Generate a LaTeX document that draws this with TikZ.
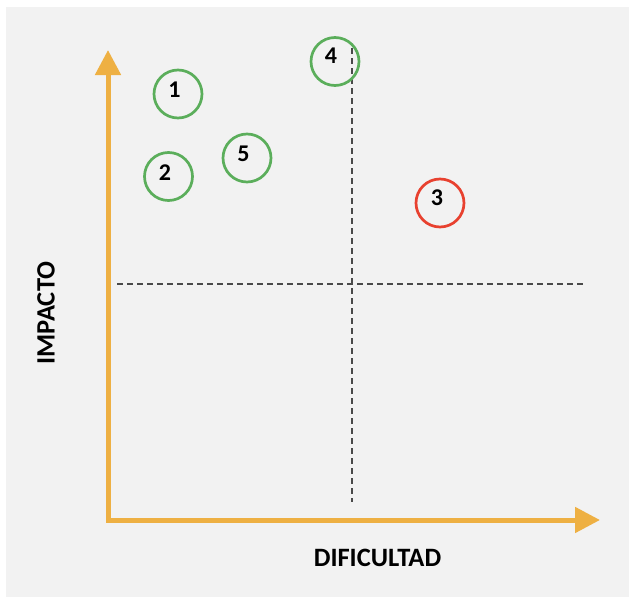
\documentclass[tikz,border=0pt]{standalone}
\usepackage{fontspec}
\setmainfont{Carlito}
\usetikzlibrary{arrows.meta}
\definecolor{bgc}{HTML}{F2F2F2}
\definecolor{axisc}{HTML}{EEB043}
\definecolor{goodc}{HTML}{5BAE5B}
\definecolor{badc}{HTML}{E8412F}
\definecolor{dashc}{HTML}{4A4A4A}
\tikzset{
  axisline/.style={axisc, line width=5pt, line join=miter,
    {Triangle[length=25pt,width=25pt]}-{Triangle[length=25pt,width=25pt]}},
  guide/.style={dashc, line width=1.6pt, dash pattern=on 6pt off 4pt},
  mark circle/.style={circle, draw=#1, line width=2.7pt, minimum size=48pt, inner sep=0pt},
  numtext/.style={font=\fontsize{24}{24}\selectfont\bfseries, inner sep=0pt},
  axislabel/.style={font=\fontsize{26.5}{26.5}\selectfont\bfseries, inner sep=0pt}
}
\begin{document}
\begin{tikzpicture}[x=1pt,y=-1pt]
\useasboundingbox (0,0) rectangle (630,597);
\fill[white] (0,0) rectangle (630,597);
\fill[bgc] (6,7) rectangle (629,597);
% axes
\coordinate (O) at (108,520);
\coordinate (ytip) at (108,50);
\coordinate (xtip) at (600,520);
% guides
\coordinate (hL) at (117,284);
\coordinate (hR) at (585,284);
\coordinate (vT) at (352,48);
\coordinate (vB) at (352,502);
\draw[guide] (hL) -- (hR);
\draw[guide] (vT) -- (vB);
\draw[axisline] (ytip) -- (O) -- (xtip);
% circles
\node[mark circle=goodc] (c1) at (178,94) {};
\node[mark circle=goodc] (c2) at (168.5,176.5) {};
\node[mark circle=goodc] (c5) at (247,158) {};
\node[mark circle=goodc] (c4) at (335,61.5) {};
\node[mark circle=badc]  (c3) at (440,203) {};
\node[numtext] (n1) at ([shift={(-3.5,-4)}]c1) {1};
\node[numtext] (n2) at ([shift={(-3.5,-4)}]c2) {2};
\node[numtext] (n5) at ([shift={(-3.5,-4.5)}]c5) {5};
\node[numtext] (n4) at ([shift={(-4,-5.5)}]c4) {4};
\node[numtext] (n3) at ([shift={(-3,-5)}]c3) {3};
% labels
\node[axislabel, rotate=90] (ylab) at (46,313) {IMPACTO};
\node[axislabel] (xlab) at (377.5,558) {DIFICULTAD};
\end{tikzpicture}
\end{document}
